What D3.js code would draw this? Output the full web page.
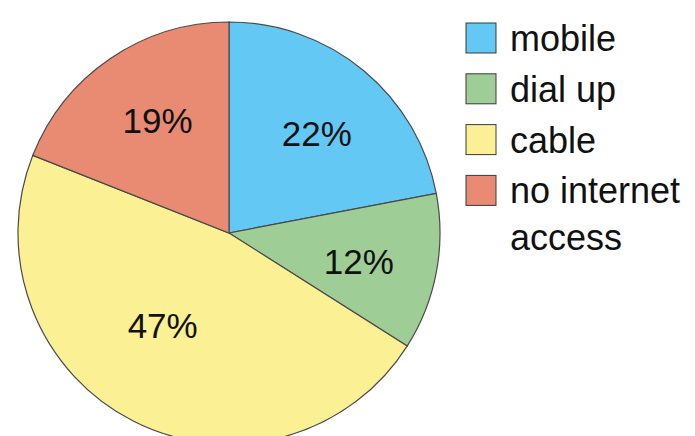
<!DOCTYPE html>
<html>
<head>
<meta charset="utf-8">
<script src="https://cdn.jsdelivr.net/npm/d3@7"></script>
<style>
  html, body { margin: 0; padding: 0; background: #ffffff; }
  svg { display: block; }
  text { font-family: "Liberation Sans", Arial, Helvetica, sans-serif; fill: #111; }
</style>
</head>
<body>
<svg id="chart" width="695" height="436"></svg>
<script>
// Internet access share by type
const categories = ["mobile", "dial up", "cable", "no internet access"];
const shares = [22, 12, 47, 19];
const colors = ["#63c8f4", "#9fcd96", "#fcf094", "#e88b72"];
const legendLines = [["mobile"], ["dial up"], ["cable"], ["no internet", "access"]];

const data = categories.map((c, i) => ({ name: c, value: shares[i], color: colors[i], lines: legendLines[i] }));

const svg = d3.select("#chart");
const cx = 229, cy = 233, radius = 211;

const pie = d3.pie().value(d => d.value).sort(null);
const arc = d3.arc().innerRadius(0).outerRadius(radius);
// Smaller slices get their label further out; the big slice keeps it nearer the centre
const labelArc = d3.arc().innerRadius(radius * 0.63).outerRadius(radius * 0.63);
const bigLabelArc = d3.arc().innerRadius(radius * 0.54).outerRadius(radius * 0.54);

const g = svg.append("g").attr("transform", `translate(${cx},${cy})`);
const arcs = pie(data);

g.selectAll("path.slice")
  .data(arcs)
  .join("path")
  .attr("class", "slice")
  .attr("d", arc)
  .attr("fill", d => d.data.color)
  .attr("stroke", "#4a4a4a")
  .attr("stroke-width", 1.2);

g.selectAll("text.pct")
  .data(arcs)
  .join("text")
  .attr("class", "pct")
  .attr("transform", d => {
    const big = (d.endAngle - d.startAngle) > Math.PI * 0.8;
    const mid = (d.startAngle + d.endAngle) / 2 + (big ? 0.15 : 0.03);
    const r = big ? radius * 0.54 : radius * 0.63;
    return `translate(${Math.sin(mid) * r},${-Math.cos(mid) * r})`;
  })
  .attr("text-anchor", "middle")
  .attr("dy", "0.36em")
  .style("font-size", "35px")
  .text(d => d.data.value + "%");

// Legend
const legend = svg.append("g").attr("transform", "translate(466,23)");
const rowStep = 50.8;
const rows = legend.selectAll("g.row")
  .data(data)
  .join("g")
  .attr("class", "row")
  .attr("transform", (d, i) => `translate(0,${i * rowStep})`);

rows.append("rect")
  .attr("width", 30)
  .attr("height", 30)
  .attr("fill", d => d.color)
  .attr("stroke", "#3a3a3a")
  .attr("stroke-width", 1);

rows.append("text")
  .attr("x", 44)
  .attr("y", 28)
  .style("font-size", "36px")
  .selectAll("tspan")
  .data(d => d.lines)
  .join("tspan")
  .attr("x", 44)
  .attr("dy", (d, i) => i === 0 ? 0 : 47)
  .text(d => d);
</script>
</body>
</html>
